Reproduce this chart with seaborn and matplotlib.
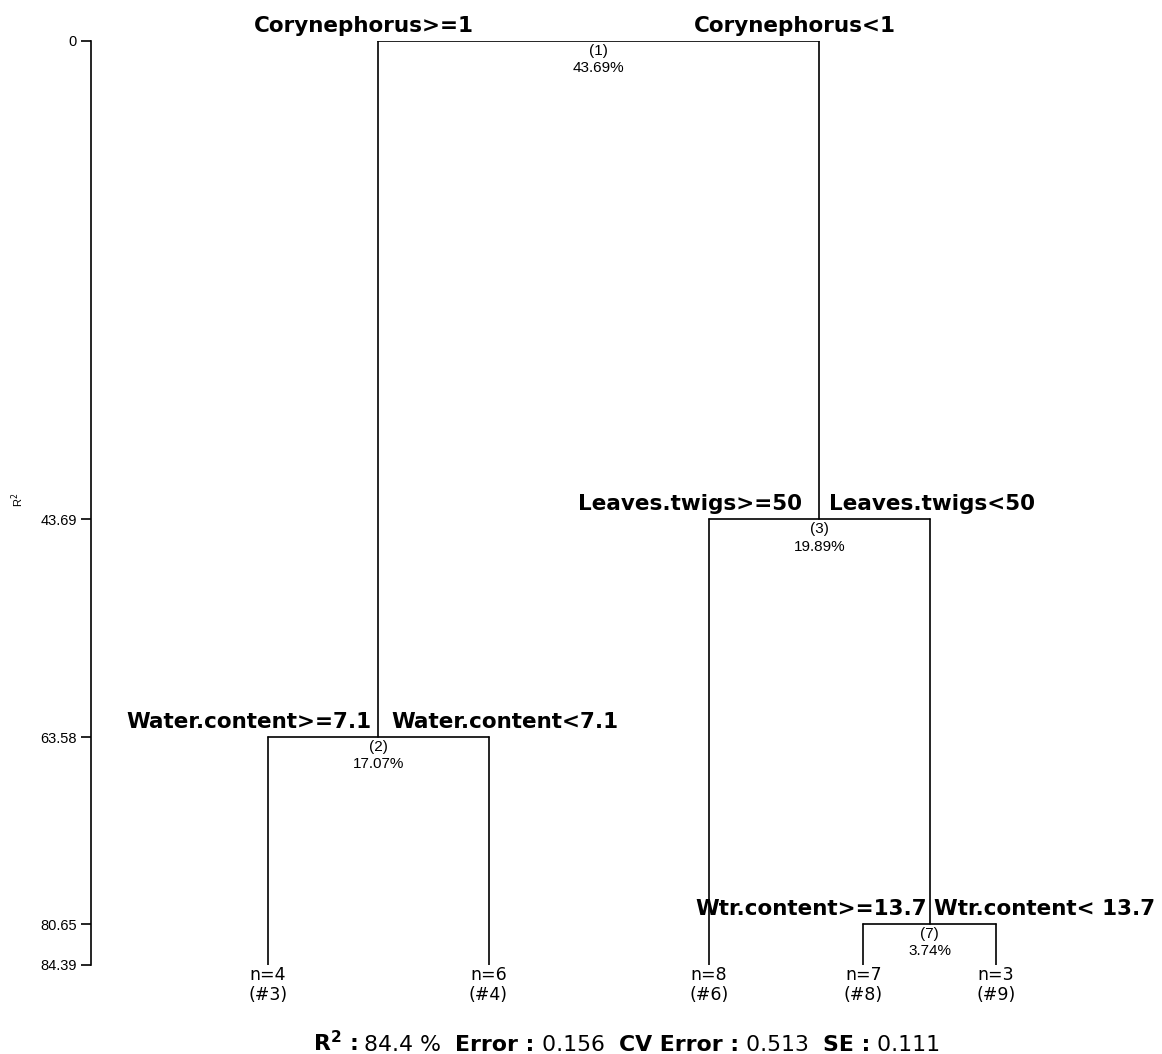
import numpy as np
import pandas as pd
import matplotlib
matplotlib.use("Agg")
import matplotlib.pyplot as plt
import seaborn as sns

# ---- Regression tree (mvpart style) ----
# internal nodes: id, split labels, R2 gain of the split (%)
node_ids = [1, 2, 3, 7]
left_labels = ["Corynephorus>=1", "Water.content>=7.1", "Leaves.twigs>=50", "Wtr.content>=13.7"]
right_labels = ["Corynephorus<1", "Water.content<7.1", "Leaves.twigs<50", "Wtr.content< 13.7"]
node_gain = [43.69, 17.07, 19.89, 3.74]
split_order = [1, 3, 2, 7]
children = {1: (2, 3), 2: ("#3", "#4"), 3: ("#6", 7), 7: ("#8", "#9")}

# terminal nodes
leaf_names = ["#3", "#4", "#6", "#8", "#9"]
leaf_n = [4, 6, 8, 7, 3]
leaf_pos = [1.0, 2.0, 3.0, 3.7, 4.3]

# summary statistics
r2_total = 84.4
error = 0.156
cv_error = 0.513
se = 0.111

# label offsets from node x (pixels)
left_off = {1: -125, 2: -7, 3: -17, 7: -3}
right_off = {1: 95, 2: 13, 3: 10, 7: 5}

# ---- geometry from data ----
gain = dict(zip(node_ids, node_gain))
heights = np.concatenate([[0.0], np.cumsum([gain[k] for k in split_order])])
node_y = {k: heights[i] for i, k in enumerate(split_order)}
bottom = heights[-1]

xpos = dict(zip(leaf_names, leaf_pos))
ypos = {name: bottom for name in leaf_names}


def place(node):
    if node in xpos:
        return xpos[node]
    l, r = children[node]
    xpos[node] = (place(l) + place(r)) / 2
    ypos[node] = node_y[node]
    return xpos[node]


place(1)

rows = []
seg = 0
for node in node_ids:
    l, r = children[node]
    y0 = ypos[node]
    rows += [(xpos[l], y0, seg), (xpos[r], y0, seg)]
    seg += 1
    for c in (l, r):
        rows += [(xpos[c], y0, seg), (xpos[c], ypos[c], seg)]
        seg += 1
segs = pd.DataFrame(rows, columns=["x", "y", "seg"])

# ---- figure ----
sns.set_style("ticks")
plt.rcParams["font.family"] = ["DejaVu Sans"]
plt.rcParams["mathtext.fontset"] = "dejavusans"
plt.rcParams["text.color"] = "black"
plt.rcParams["axes.labelcolor"] = "black"
plt.rcParams["ytick.color"] = "black"
plt.rcParams["axes.edgecolor"] = "black"

W, H = 1162, 1054
fig = plt.figure(figsize=(W / 100, H / 100), dpi=100)
ax = fig.add_axes([91 / W, 1 - 965 / H, 1 - 91 / W, (965 - 41) / H])

sns.lineplot(data=segs, x="x", y="y", units="seg", estimator=None, sort=False,
             color="black", lw=1.2, ax=ax, legend=False)

ax.set_xlim(1 + (91 - 268) / 220.5, 1 + (W - 268) / 220.5)
ax.set_ylim(bottom, 0)
ax.set_yticks(heights)
ax.set_yticklabels(["0" if h == 0 else f"{h:.2f}" for h in heights],
                   fontfamily="Liberation Sans", fontsize=10.5)
ax.tick_params(axis="y", length=7, width=1.2, pad=3, color="black", labelcolor="black")
ax.set_xticks([])
ax.set_xlabel("")
ax.set_ylabel("R$^2$", fontfamily="Liberation Sans", fontsize=8)
ax.yaxis.set_label_coords(-0.061, 0.503)
for s in ["top", "right", "bottom"]:
    ax.spines[s].set_visible(False)
ax.spines["left"].set_linewidth(1.2)

# split labels and node gains
for node, ll, rl in zip(node_ids, left_labels, right_labels):
    x, y = xpos[node], ypos[node]
    ax.annotate(ll, (x, y), xytext=(left_off[node], 9), textcoords="offset pixels",
                ha="right", va="baseline", fontsize=15.5, fontweight="bold",
                annotation_clip=False)
    ax.annotate(rl, (x, y), xytext=(right_off[node], 9), textcoords="offset pixels",
                ha="left", va="baseline", fontsize=15.5, fontweight="bold",
                annotation_clip=False)
    ax.annotate(f"({node})\n{gain[node]:.2f}%", (x, y), xytext=(0, -3),
                textcoords="offset pixels", ha="center", va="top",
                fontfamily="Liberation Sans", fontsize=11, linespacing=1.3,
                annotation_clip=False)

# leaf labels
for name, n in zip(leaf_names, leaf_n):
    ax.annotate(f"n={n}\n({name})", (xpos[name], bottom), xytext=(0, -1),
                textcoords="offset pixels", ha="center", va="top", fontsize=12.5,
                linespacing=1.15, annotation_clip=False)

# summary line: bold keys, regular values, centred under the axes
pieces = [(r"R$^\mathbf{2}$ :", "bold"), (f" {r2_total} %  ", "normal"),
          ("Error :", "bold"), (f" {error}  ", "normal"),
          ("CV Error :", "bold"), (f" {cv_error}  ", "normal"),
          ("SE :", "bold"), (f" {se}", "normal")]
y_sum = 1 - 1051 / H
renderer = fig.canvas.get_renderer()
texts = []
for s, w in pieces:
    t = fig.text(0, y_sum, s, ha="left", va="baseline", fontsize=15.8, fontweight=w)
    texts.append(t)
adv = [t.get_window_extent(renderer).width for t in texts]
total = sum(adv)
x0 = (91 + W) / 2 - total / 2
for t, a in zip(texts, adv):
    t.set_x(x0 / W)
    x0 += a

fig.savefig("out.png", dpi=100)
